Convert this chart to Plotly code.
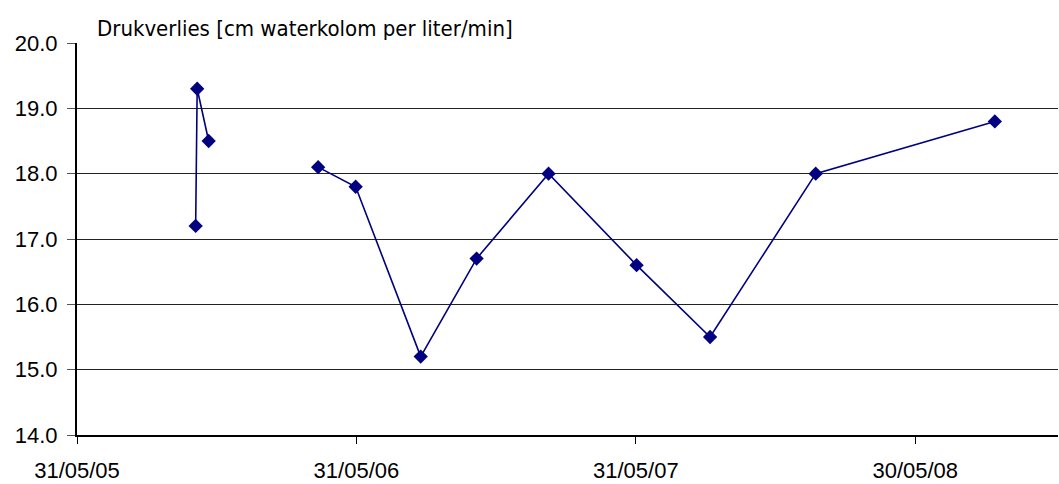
import plotly.graph_objects as go

dates = ["2005-11-02", "2005-11-04", "2005-11-19", None,
         "2006-04-11", "2006-05-30", "2006-08-23", "2006-11-04",
         "2007-02-06", "2007-06-01", "2007-09-05", "2008-01-21", "2008-09-11"]
values = [17.2, 19.3, 18.5, None,
          18.1, 17.8, 15.2, 16.7, 18.0, 16.6, 15.5, 18.0, 18.8]

tick_dates = ["2005-05-31", "2006-05-31", "2007-05-31", "2008-05-30"]
tick_labels = ["31/05/05", "31/05/06", "31/05/07", "30/05/08"]
y_ticks = [14, 15, 16, 17, 18, 19, 20]
title_text = "Drukverlies [cm waterkolom per liter/min]"

fig = go.Figure()
fig.add_trace(go.Scatter(
    x=dates, y=values, mode="lines+markers", connectgaps=False,
    line=dict(color="#000080", width=1.6),
    marker=dict(symbol="diamond", size=11, color="#000080"),
    showlegend=False, hoverinfo="x+y",
))

fig.update_layout(
    width=1059, height=484,
    margin=dict(l=77, r=1, t=43, b=49),
    paper_bgcolor="white", plot_bgcolor="white",
    font=dict(family="Liberation Sans, Arial, sans-serif", size=22, color="black"),
    xaxis=dict(
        type="date", range=["2005-05-31", "2008-12-02 12:00"],
        tickvals=tick_dates, ticktext=tick_labels,
        showgrid=False, zeroline=False,
        showline=True, linecolor="black", linewidth=2,
        ticks="outside", ticklen=7, tickcolor="black", tickwidth=1,
        ticklabelstandoff=8,
        tickfont=dict(size=22),
    ),
    yaxis=dict(
        range=[14, 20], tickvals=y_ticks, tickformat=".1f",
        showgrid=True, gridcolor="#222", gridwidth=1, zeroline=False,
        showline=True, linecolor="black", linewidth=2,
        ticks="outside", ticklen=8, tickcolor="#555", tickwidth=1,
        ticklabelstandoff=5,
        tickfont=dict(size=22),
    ),
    annotations=[dict(
        text=title_text, xref="paper", yref="paper",
        x=(95 - 77) / 981, y=1 + (43 - 28) / 392,
        xanchor="left", yanchor="middle", showarrow=False,
        font=dict(family="Liberation Sans Narrow, Arial Narrow, DejaVu Sans Condensed, sans-serif", size=22, color="black"),
    )],
)

fig.write_html(
    "out.html",
    config={"displayModeBar": False},
    post_script="document.body.style.margin='0';document.body.style.overflow='hidden';",
)
